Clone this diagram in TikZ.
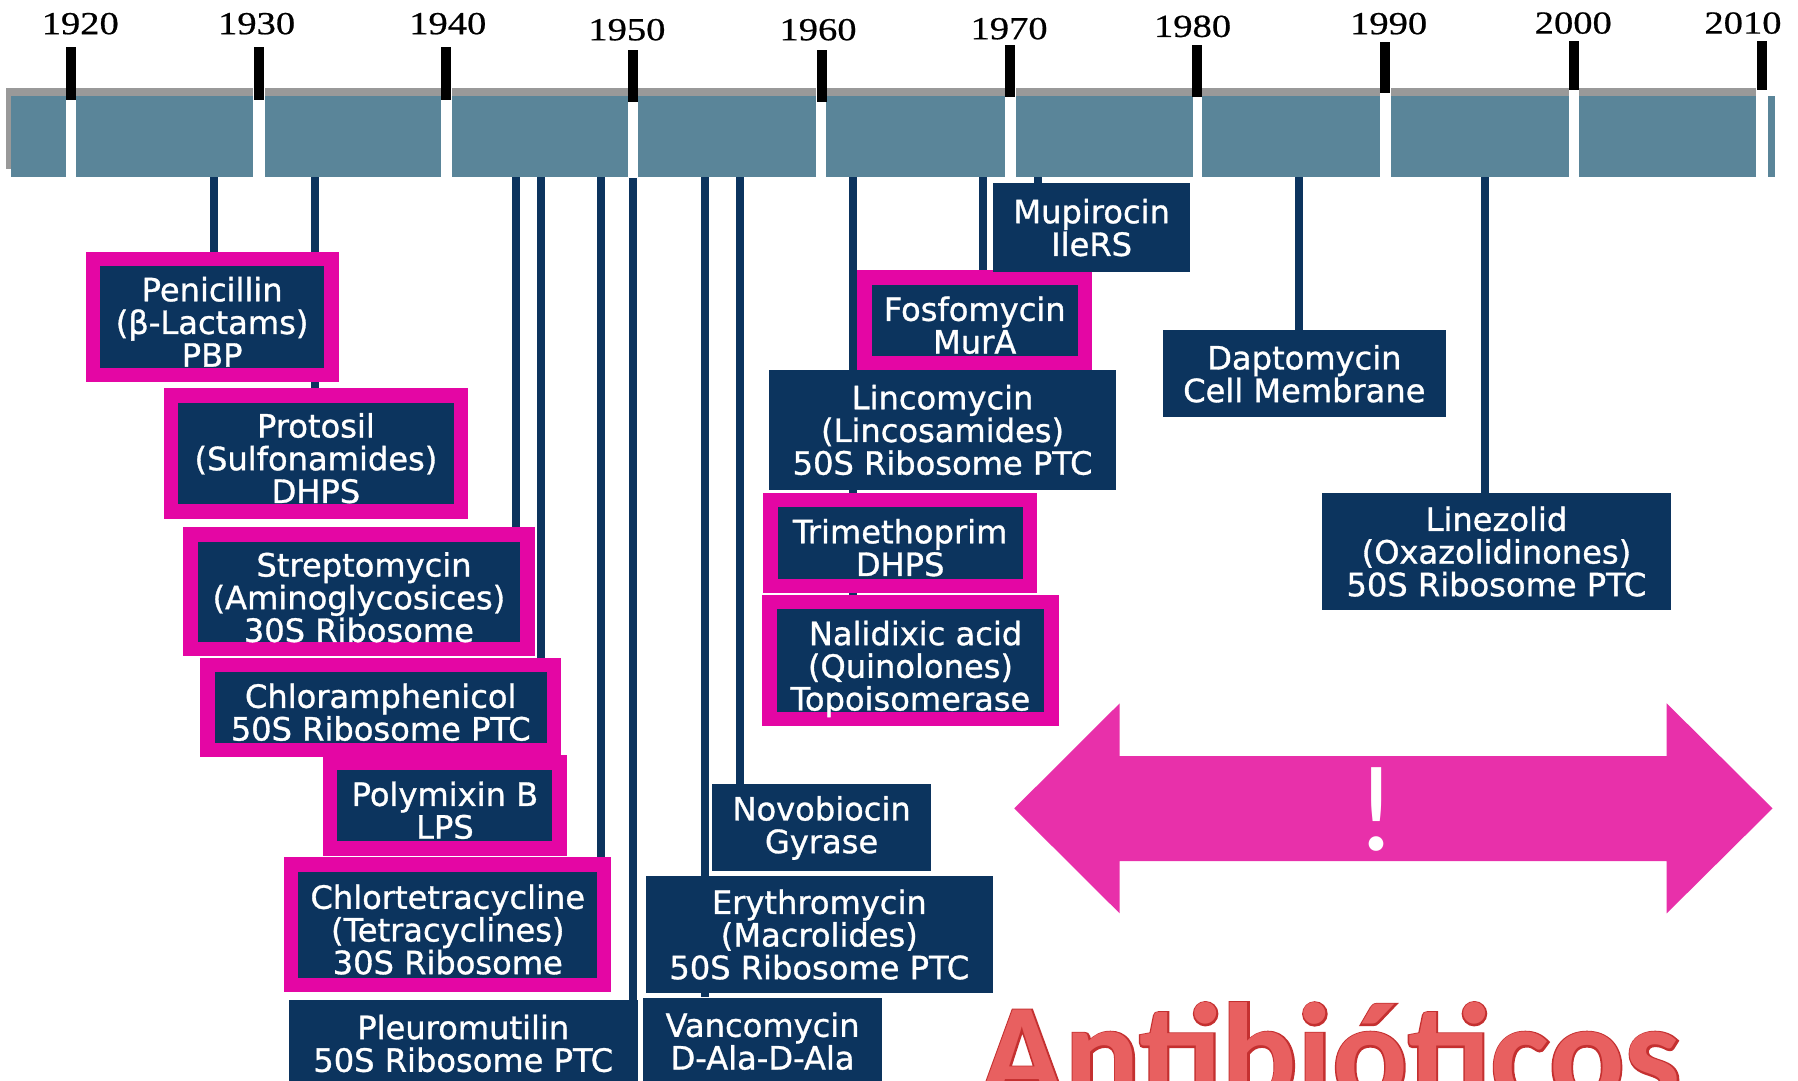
\documentclass[tikz,border=0pt]{standalone}
\usepackage{fontspec}
\setmainfont[FakeBold=1]{DejaVu Sans}
\newfontfamily\yearfont[FakeStretch=1.2,FakeBold=0.6]{Liberation Serif}
\newfontfamily\titlefont{Carlito}
\newfontfamily\titlebold{Carlito Bold}
\newfontfamily\titleedge[FakeBold=2.5]{Carlito Bold}
\newcommand\tpad[1][29.5]{\rule{0pt}{#1pt}}
\definecolor{navyc}{RGB}{12,52,94}
\definecolor{barc}{RGB}{90,133,153}
\definecolor{shadowc}{RGB}{153,153,153}
\definecolor{pinkc}{RGB}{228,6,164}
\definecolor{arrowc}{RGB}{232,48,170}
\definecolor{redc}{RGB}{232,96,96}
\definecolor{reddark}{RGB}{196,48,48}
\pgfdeclarelayer{bg}
\pgfdeclarelayer{lines}
\pgfsetlayers{bg,lines,main}
\begin{document}
\begin{tikzpicture}[x=1pt,y=-1pt,
  drug/.style={rectangle, fill=navyc, text=white, inner sep=0pt, align=center,
    font=\fontsize{28}{28.5}\selectfont},
  hit/.style={drug, draw=pinkc, line width=12.5pt},
  link/.style={draw=navyc, line width=7pt},
  year/.style={anchor=base, inner sep=0pt, font=\yearfont\fontsize{28}{28}\selectfont},
  tickmark/.style={fill=black},
  gap/.style={fill=white}]
\useasboundingbox (0,0) rectangle (1568,942);
\begin{pgfonlayer}{bg}
\fill[white] (0,0) rectangle (1568,942);
\end{pgfonlayer}
\clip (0,0) rectangle (1568,942);

% timeline bar
\fill[shadowc] (5,77) rectangle (1542,147);
\fill[barc] (10,83.5) rectangle (1548,154);
\foreach \a/\b in {57.5/66, 220.5/231, 384.5/394, 547.5/556, 712/720.5, 876/886, 1040/1048, 1203.5/1213, 1368/1377, 1531/1542}
  \fill[gap] (\a,76) rectangle (\b,155);
\foreach \c/\t/\u in {62/41/87, 226/41/87, 389/41/87, 552/43.6/89, 716.5/43.6/89, 881/39/85, 1044/39/85, 1208/37/81, 1372.5/35.5/78.5, 1536.5/35.5/78.5}
  \fill[tickmark] (\c-4.3,\t) rectangle (\c+4.3,\u);

% year labels
\node[year] (y1920) at (70,29.8) {1920};
\node[year] (y1930) at (223.8,29.8) {1930};
\node[year] (y1940) at (390.5,29.8) {1940};
\node[year] (y1950) at (546.7,35.1) {1950};
\node[year] (y1960) at (713.4,35.1) {1960};
\node[year] (y1970) at (880,34.2) {1970};
\node[year] (y1980) at (1040,32.2) {1980};
\node[year] (y1990) at (1211,29.8) {1990};
\node[year] (y2000) at (1372,29.3) {2000};
\node[year] (y2010) at (1520,29.3) {2010};

% connector starts at bar bottom
\foreach \n/\x in {c1/187, c2/275, c3/450, c4/472, c5/524, c6/552, c7/615, c8/645, c9/744, c10/857, c11/905, c12/1132.5, c13/1295}
  \coordinate (\n) at (\x,154);

% drug boxes
\node[hit, minimum width=208pt, minimum height=101pt] (peni) at (185,276.5) {\tpad Penicillin\\(β-Lactams)\\PBP};
\node[hit, minimum width=253pt, minimum height=101pt] (prot) at (275.5,395.5) {\tpad Protosil\\(Sulfonamides)\\DHPS};
\node[hit, minimum width=294pt, minimum height=100pt] (strep) at (313,516) {\tpad[31] Streptomycin\\(Aminoglycosices)\\30S Ribosome};
\node[hit, minimum width=302pt, minimum height=74pt] (chlor) at (332,617) {\tpad Chloramphenicol\\50S Ribosome PTC};
\node[hit, minimum width=200pt, minimum height=75pt] (poly) at (388,702.5) {\tpad Polymixin B\\LPS};
\node[hit, minimum width=273pt, minimum height=105pt] (chlt) at (390.5,806.5) {\tpad Chlortetracycline\\(Tetracyclines)\\30S Ribosome};
\node[drug, minimum width=304pt, minimum height=76pt] (pleu) at (404,910) {Pleuromutilin\\50S Ribosome PTC};
\node[drug, minimum width=208pt, minimum height=76pt] (vanc) at (665,908) {Vancomycin\\D-Ala-D-Ala};
\node[drug, minimum width=303pt, minimum height=102pt] (eryt) at (714.5,815) {Erythromycin\\(Macrolides)\\50S Ribosome PTC};
\node[drug, minimum width=191pt, minimum height=76pt] (novo) at (716.5,722) {Novobiocin\\Gyrase};
\node[hit, minimum width=246pt, minimum height=102pt] (nali) at (794,576) {\tpad[36] Nalidixic acid\\(Quinolones)\\Topoisomerase};
\node[hit, minimum width=226pt, minimum height=75pt] (trim) at (785,473.5) {\tpad Trimethoprim\\DHPS};
\node[hit, minimum width=192pt, minimum height=75pt] (fosf) at (850,279.5) {\tpad Fosfomycin\\MurA};
\node[drug, minimum width=302pt, minimum height=104pt] (linc) at (822,375) {Lincomycin\\(Lincosamides)\\50S Ribosome PTC};
\node[drug, minimum width=172pt, minimum height=77pt] (mupi) at (952,198.5) {Mupirocin\\IleRS};
\node[drug, minimum width=247pt, minimum height=76pt] (dapt) at (1137.5,326) {Daptomycin\\Cell Membrane};
\node[drug, minimum width=304pt, minimum height=102pt] (linz) at (1305,481) {Linezolid\\(Oxazolidinones)\\50S Ribosome PTC};

% connectors (behind boxes)
\begin{pgfonlayer}{lines}
\draw[link] (c1) -- (c1 |- peni.north);
\draw[link] (c2) -- (c2 |- prot.north);
\draw[link] (c3) -- (c3 |- strep.north);
\draw[link] (c4) -- (c4 |- chlor.north);
\draw[link] (c5) -- (c5 |- chlt.north);
\draw[link] (c6) -- (c6 |- pleu.north);
\draw[link] (c7) -- (c7 |- vanc.north);
\draw[link] (c8) -- (c8 |- novo.north);
\draw[link] (c9) -- (c9 |- nali.north);
\draw[link] (c10) -- (c10 |- fosf.north);
\draw[link] (c11) -- (c11 |- mupi.north);
\draw[link] (c12) -- (c12 |- dapt.north);
\draw[link] (c13) -- (c13 |- linz.north);
\end{pgfonlayer}

% double arrow
\fill[arrowc] (884.5,705) -- (976.4,613.4) -- (976.4,659.3) -- (1453.5,659.3) -- (1453.5,613.4)
  -- (1545.8,705) -- (1453.5,796.5) -- (1453.5,750.9) -- (976.4,750.9) -- (976.4,796.5) -- cycle;
\node[anchor=base, inner sep=0pt, text=white, font=\titlefont\fontsize{107}{107}\selectfont] (excl) at (1200.5,742) {!};

% title
\node[anchor=base west, inner sep=0pt, text=reddark, font=\titleedge\fontsize{123}{123}\selectfont] (titleb) at (854,961) {Antibióticos};
\node[anchor=base west, inner sep=0pt, text=redc, font=\titlebold\fontsize{123}{123}\selectfont] (title) at (854,961) {Antibióticos};
\end{tikzpicture}
\end{document}
